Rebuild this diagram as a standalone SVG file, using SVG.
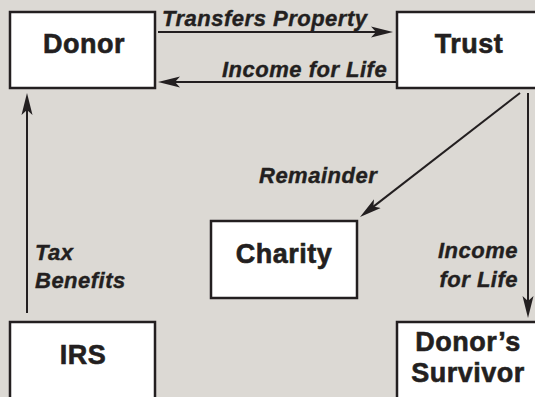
<svg xmlns="http://www.w3.org/2000/svg" width="535" height="397" viewBox="0 0 535 397">
  <style>
    .box { fill: #ffffff; stroke: #231f20; stroke-width: 2.5; }
    .name { font-family: "Liberation Sans", Arial, sans-serif; font-weight: bold; font-size: 27px; letter-spacing: 0.5px; fill: #231f20; stroke: #231f20; stroke-width: 0.6; text-anchor: middle; }
    .lbl { font-family: "Liberation Sans", Arial, sans-serif; font-weight: bold; font-style: italic; font-size: 22px; letter-spacing: 0.5px; fill: #231f20; stroke: #231f20; stroke-width: 0.4; }
    .edge { stroke: #231f20; stroke-width: 2; fill: none; marker-end: url(#head); }
  </style>
  <defs>
    <marker id="head" markerUnits="userSpaceOnUse" markerWidth="24" markerHeight="12" viewBox="0 0 24 12" refX="12" refY="6" orient="auto">
      <path d="M22,6 L0,0.5 L5,6 L0,11.5 Z" fill="#231f20"/>
    </marker>
  </defs>

  <rect width="535" height="397" fill="#dcd9d4"/>

  <g id="connectors">
    <line class="edge" x1="158" y1="32" x2="383" y2="32"/>
    <line class="edge" x1="397" y1="82" x2="168" y2="82"/>
    <line class="edge" x1="520" y1="93" x2="367.9" y2="210.9"/>
    <line class="edge" x1="528" y1="93" x2="528" y2="308"/>
    <line class="edge" x1="27" y1="313" x2="27" y2="103"/>
    <text class="lbl" x="162" y="26">Transfers Property</text>
    <text class="lbl" x="222" y="77">Income for Life</text>
    <text class="lbl" x="259" y="183">Remainder</text>
    <text class="lbl" x="518" y="258" text-anchor="end">Income</text>
    <text class="lbl" x="518" y="287" text-anchor="end">for Life</text>
    <text class="lbl" x="35" y="260">Tax</text>
    <text class="lbl" x="35" y="288">Benefits</text>
  </g>

  <g id="donor">
    <rect class="box" x="10" y="12" width="145" height="76"/>
    <text class="name" x="84" y="53">Donor</text>
  </g>
  <g id="trust">
    <rect class="box" x="397" y="12" width="150" height="76"/>
    <text class="name" x="469" y="53">Trust</text>
  </g>
  <g id="charity">
    <rect class="box" x="211" y="221" width="146" height="77"/>
    <text class="name" x="284" y="263">Charity</text>
  </g>
  <g id="irs">
    <rect class="box" x="10" y="322" width="145" height="100"/>
    <text class="name" x="83" y="364">IRS</text>
  </g>
  <g id="survivor">
    <rect class="box" x="397" y="322" width="150" height="100"/>
    <text class="name" x="468" y="351">Donor’s</text>
    <text class="name" x="468" y="382">Survivor</text>
  </g>
</svg>
